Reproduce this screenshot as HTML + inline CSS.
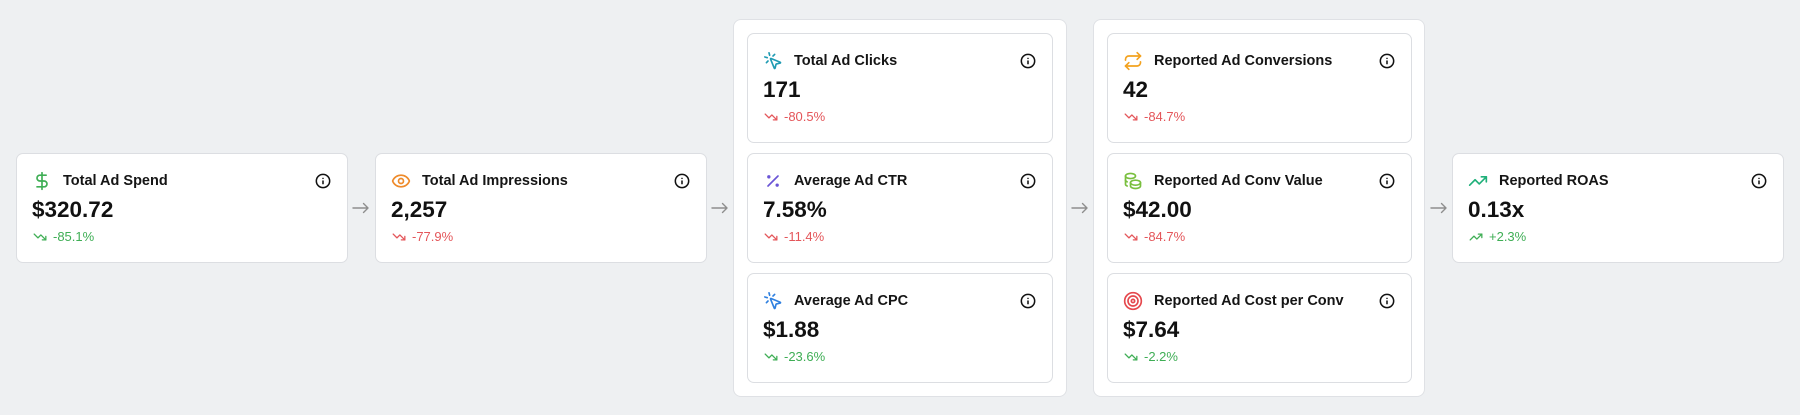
<!DOCTYPE html>
<html>
<head>
<meta charset="utf-8">
<style>
  html,body{margin:0;padding:0;}
  body{width:1800px;height:415px;overflow:hidden;background:#eef0f2;position:relative;font-family:"Liberation Sans",Arial,sans-serif;color:#111;}
  .grp{position:absolute;background:#fff;border:1px solid #dfe1e5;border-radius:8px;box-sizing:border-box;}
  .card{position:absolute;background:#fff;border:1px solid #dcdee2;border-radius:7px;box-sizing:border-box;height:110px;}
  .card .ic{position:absolute;left:15px;top:17px;width:20px;height:20px;}
  .card .t{position:absolute;left:46px;top:16.5px;font-size:14.5px;line-height:20px;font-weight:700;color:#151515;white-space:nowrap;}
  .card .inf{position:absolute;right:16.5px;top:19px;width:16px;height:16px;}
  .card .v{position:absolute;left:15px;top:42px;font-size:22.5px;line-height:28px;font-weight:700;color:#111;white-space:nowrap;}
  .card .di{position:absolute;left:16px;top:75.5px;width:14px;height:14px;}
  .card .d{position:absolute;left:36px;top:74.5px;font-size:13px;line-height:16px;white-space:nowrap;}
  .g{color:#3fae55;} .r{color:#e4565a;}
  .arr{position:absolute;width:18px;height:12px;}
  svg{display:block;overflow:visible;}
</style>
</head>
<body>

<!-- arrows -->
<svg class="arr" style="left:352px;top:202px" viewBox="0 0 18 12"><path d="M1 6h15M11.5 1.5 16 6l-4.5 4.5" fill="none" stroke="#8e8e8e" stroke-width="1.4" stroke-linecap="round" stroke-linejoin="round"/></svg>
<svg class="arr" style="left:711px;top:202px" viewBox="0 0 18 12"><path d="M1 6h15M11.5 1.5 16 6l-4.5 4.5" fill="none" stroke="#8e8e8e" stroke-width="1.4" stroke-linecap="round" stroke-linejoin="round"/></svg>
<svg class="arr" style="left:1071px;top:202px" viewBox="0 0 18 12"><path d="M1 6h15M11.5 1.5 16 6l-4.5 4.5" fill="none" stroke="#8e8e8e" stroke-width="1.4" stroke-linecap="round" stroke-linejoin="round"/></svg>
<svg class="arr" style="left:1430px;top:202px" viewBox="0 0 18 12"><path d="M1 6h15M11.5 1.5 16 6l-4.5 4.5" fill="none" stroke="#8e8e8e" stroke-width="1.4" stroke-linecap="round" stroke-linejoin="round"/></svg>

<!-- Card 1 -->
<div class="card" style="left:16px;top:153px;width:332px;">
  <svg class="ic" viewBox="0 0 24 24" fill="none" stroke="#3fae55" stroke-width="2" stroke-linecap="round" stroke-linejoin="round"><line x1="12" x2="12" y1="2" y2="22"/><path d="M17 5H9.5a3.5 3.5 0 0 0 0 7h5a3.5 3.5 0 0 1 0 7H6"/></svg>
  <div class="t">Total Ad Spend</div>
  <svg class="inf" viewBox="0 0 24 24" fill="none" stroke="#111" stroke-width="2.3" stroke-linecap="round"><circle cx="12" cy="12" r="10"/><path d="M12 16v-4"/><path d="M12 8h.01"/></svg>
  <div class="v">$320.72</div>
  <svg class="di" viewBox="0 0 24 24" fill="none" stroke="#3fae55" stroke-width="2.2" stroke-linecap="round" stroke-linejoin="round"><polyline points="22 17 13.5 8.5 8.5 13.5 2 7"/><polyline points="16 17 22 17 22 11"/></svg>
  <div class="d g">-85.1%</div>
</div>

<!-- Card 2 -->
<div class="card" style="left:375px;top:153px;width:332px;">
  <svg class="ic" viewBox="0 0 24 24" fill="none" stroke="#ee8a2a" stroke-width="2" stroke-linecap="round" stroke-linejoin="round"><path d="M2.062 12.348a1 1 0 0 1 0-.696 10.75 10.75 0 0 1 19.876 0 1 1 0 0 1 0 .696 10.75 10.75 0 0 1-19.876 0"/><circle cx="12" cy="12" r="3"/></svg>
  <div class="t">Total Ad Impressions</div>
  <svg class="inf" viewBox="0 0 24 24" fill="none" stroke="#111" stroke-width="2.3" stroke-linecap="round"><circle cx="12" cy="12" r="10"/><path d="M12 16v-4"/><path d="M12 8h.01"/></svg>
  <div class="v">2,257</div>
  <svg class="di" viewBox="0 0 24 24" fill="none" stroke="#e4565a" stroke-width="2.2" stroke-linecap="round" stroke-linejoin="round"><polyline points="22 17 13.5 8.5 8.5 13.5 2 7"/><polyline points="16 17 22 17 22 11"/></svg>
  <div class="d r">-77.9%</div>
</div>

<!-- Group 1 -->
<div class="grp" style="left:733px;top:19px;width:334px;height:378px;"></div>

<div class="card" style="left:747px;top:33px;width:306px;">
  <svg class="ic" viewBox="0 0 24 24" fill="none" stroke="#1f9bb3" stroke-width="2" stroke-linecap="round" stroke-linejoin="round"><path d="M14 4.1 12 6"/><path d="m5.1 8-2.9-.8"/><path d="m6 12-1.9 2"/><path d="M7.2 2.2 8 5.1"/><path d="M9.037 9.69a.498.498 0 0 1 .653-.653l11 4.5a.5.5 0 0 1-.074.949l-4.349 1.041a1 1 0 0 0-.74.739l-1.04 4.350a.5.5 0 0 1-.95.074z"/></svg>
  <div class="t">Total Ad Clicks</div>
  <svg class="inf" viewBox="0 0 24 24" fill="none" stroke="#111" stroke-width="2.3" stroke-linecap="round"><circle cx="12" cy="12" r="10"/><path d="M12 16v-4"/><path d="M12 8h.01"/></svg>
  <div class="v">171</div>
  <svg class="di" viewBox="0 0 24 24" fill="none" stroke="#e4565a" stroke-width="2.2" stroke-linecap="round" stroke-linejoin="round"><polyline points="22 17 13.5 8.5 8.5 13.5 2 7"/><polyline points="16 17 22 17 22 11"/></svg>
  <div class="d r">-80.5%</div>
</div>

<div class="card" style="left:747px;top:153px;width:306px;">
  <svg class="ic" viewBox="0 0 24 24" fill="none" stroke="#6a55d6" stroke-width="2" stroke-linecap="round" stroke-linejoin="round"><line x1="18" x2="6" y1="6" y2="18"/><circle cx="7" cy="7" r="1" fill="#6a55d6"/><circle cx="17" cy="17" r="1" fill="#6a55d6"/></svg>
  <div class="t">Average Ad CTR</div>
  <svg class="inf" viewBox="0 0 24 24" fill="none" stroke="#111" stroke-width="2.3" stroke-linecap="round"><circle cx="12" cy="12" r="10"/><path d="M12 16v-4"/><path d="M12 8h.01"/></svg>
  <div class="v">7.58%</div>
  <svg class="di" viewBox="0 0 24 24" fill="none" stroke="#e4565a" stroke-width="2.2" stroke-linecap="round" stroke-linejoin="round"><polyline points="22 17 13.5 8.5 8.5 13.5 2 7"/><polyline points="16 17 22 17 22 11"/></svg>
  <div class="d r">-11.4%</div>
</div>

<div class="card" style="left:747px;top:273px;width:306px;">
  <svg class="ic" viewBox="0 0 24 24" fill="none" stroke="#2f80e0" stroke-width="2" stroke-linecap="round" stroke-linejoin="round"><path d="M14 4.1 12 6"/><path d="m5.1 8-2.9-.8"/><path d="m6 12-1.9 2"/><path d="M7.2 2.2 8 5.1"/><path d="M9.037 9.69a.498.498 0 0 1 .653-.653l11 4.5a.5.5 0 0 1-.074.949l-4.349 1.041a1 1 0 0 0-.74.739l-1.04 4.35a.5.5 0 0 1-.95.074z"/></svg>
  <div class="t">Average Ad CPC</div>
  <svg class="inf" viewBox="0 0 24 24" fill="none" stroke="#111" stroke-width="2.3" stroke-linecap="round"><circle cx="12" cy="12" r="10"/><path d="M12 16v-4"/><path d="M12 8h.01"/></svg>
  <div class="v">$1.88</div>
  <svg class="di" viewBox="0 0 24 24" fill="none" stroke="#3fae55" stroke-width="2.2" stroke-linecap="round" stroke-linejoin="round"><polyline points="22 17 13.5 8.5 8.5 13.5 2 7"/><polyline points="16 17 22 17 22 11"/></svg>
  <div class="d g">-23.6%</div>
</div>

<!-- Group 2 -->
<div class="grp" style="left:1093px;top:19px;width:332px;height:378px;"></div>

<div class="card" style="left:1107px;top:33px;width:305px;">
  <svg class="ic" viewBox="0 0 24 24" fill="none" stroke="#f3a21f" stroke-width="2" stroke-linecap="round" stroke-linejoin="round"><path d="m17 2 4 4-4 4"/><path d="M3 11v-1a4 4 0 0 1 4-4h14"/><path d="m7 22-4-4 4-4"/><path d="M21 13v1a4 4 0 0 1-4 4H3"/></svg>
  <div class="t">Reported Ad Conversions</div>
  <svg class="inf" viewBox="0 0 24 24" fill="none" stroke="#111" stroke-width="2.3" stroke-linecap="round"><circle cx="12" cy="12" r="10"/><path d="M12 16v-4"/><path d="M12 8h.01"/></svg>
  <div class="v">42</div>
  <svg class="di" viewBox="0 0 24 24" fill="none" stroke="#e4565a" stroke-width="2.2" stroke-linecap="round" stroke-linejoin="round"><polyline points="22 17 13.5 8.5 8.5 13.5 2 7"/><polyline points="16 17 22 17 22 11"/></svg>
  <div class="d r">-84.7%</div>
</div>

<div class="card" style="left:1107px;top:153px;width:305px;">
  <svg class="ic" viewBox="0 0 24 24" fill="none" stroke="#79bf3e" stroke-width="2" stroke-linecap="round" stroke-linejoin="round"><path d="M9 14c0 1.657 2.686 3 6 3s6 -1.343 6 -3s-2.686 -3 -6 -3s-6 1.343 -6 3z"/><path d="M9 14v4c0 1.656 2.686 3 6 3s6 -1.344 6 -3v-4"/><path d="M3 6c0 1.072 1.144 2.062 3 2.598s4.144 .536 6 0c1.856 -.536 3 -1.526 3 -2.598c0 -1.072 -1.144 -2.062 -3 -2.598s-4.144 -.536 -6 0c-1.856 .536 -3 1.526 -3 2.598z"/><path d="M3 6v10c0 .888 .772 1.45 2 2"/><path d="M3 11c0 .888 .772 1.450 2 2"/></svg>
  <div class="t">Reported Ad Conv Value</div>
  <svg class="inf" viewBox="0 0 24 24" fill="none" stroke="#111" stroke-width="2.3" stroke-linecap="round"><circle cx="12" cy="12" r="10"/><path d="M12 16v-4"/><path d="M12 8h.01"/></svg>
  <div class="v">$42.00</div>
  <svg class="di" viewBox="0 0 24 24" fill="none" stroke="#e4565a" stroke-width="2.2" stroke-linecap="round" stroke-linejoin="round"><polyline points="22 17 13.5 8.5 8.5 13.5 2 7"/><polyline points="16 17 22 17 22 11"/></svg>
  <div class="d r">-84.7%</div>
</div>

<div class="card" style="left:1107px;top:273px;width:305px;">
  <svg class="ic" viewBox="0 0 24 24" fill="none" stroke="#e5484d" stroke-width="2" stroke-linecap="round" stroke-linejoin="round"><circle cx="12" cy="12" r="10"/><circle cx="12" cy="12" r="6"/><circle cx="12" cy="12" r="2"/></svg>
  <div class="t">Reported Ad Cost per Conv</div>
  <svg class="inf" viewBox="0 0 24 24" fill="none" stroke="#111" stroke-width="2.3" stroke-linecap="round"><circle cx="12" cy="12" r="10"/><path d="M12 16v-4"/><path d="M12 8h.01"/></svg>
  <div class="v">$7.64</div>
  <svg class="di" viewBox="0 0 24 24" fill="none" stroke="#3fae55" stroke-width="2.2" stroke-linecap="round" stroke-linejoin="round"><polyline points="22 17 13.5 8.5 8.5 13.5 2 7"/><polyline points="16 17 22 17 22 11"/></svg>
  <div class="d g">-2.2%</div>
</div>

<!-- Card 6 -->
<div class="card" style="left:1452px;top:153px;width:332px;">
  <svg class="ic" viewBox="0 0 24 24" fill="none" stroke="#20b07a" stroke-width="2" stroke-linecap="round" stroke-linejoin="round"><polyline points="22 7 13.5 15.5 8.5 10.5 2 17"/><polyline points="16 7 22 7 22 13"/></svg>
  <div class="t">Reported ROAS</div>
  <svg class="inf" viewBox="0 0 24 24" fill="none" stroke="#111" stroke-width="2.3" stroke-linecap="round"><circle cx="12" cy="12" r="10"/><path d="M12 16v-4"/><path d="M12 8h.01"/></svg>
  <div class="v">0.13x</div>
  <svg class="di" viewBox="0 0 24 24" fill="none" stroke="#3fae55" stroke-width="2.2" stroke-linecap="round" stroke-linejoin="round"><polyline points="22 7 13.5 15.5 8.5 10.5 2 17"/><polyline points="16 7 22 7 22 13"/></svg>
  <div class="d g">+2.3%</div>
</div>

</body>
</html>
